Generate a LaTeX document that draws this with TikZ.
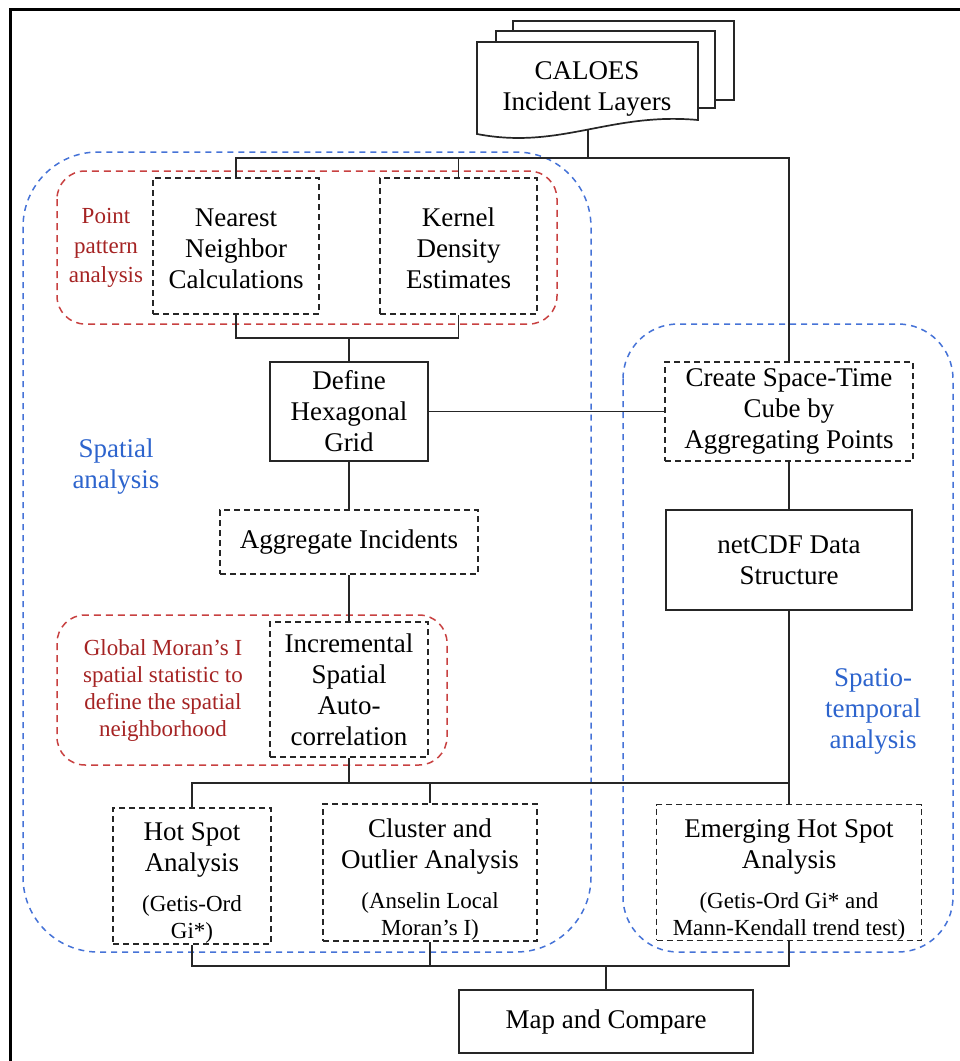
\documentclass[tikz,border=0pt]{standalone}
\usepackage{fontspec}
\setmainfont{Liberation Serif}
\newcommand\bigf{\fontsize{27}{31}\selectfont}
\newcommand\smallf{\fontsize{23}{27}\selectfont}
\newcommand\redf{\fontsize{23}{29.5}\selectfont}
\definecolor{regblue}{RGB}{70,115,215}
\definecolor{txtblue}{RGB}{45,100,205}
\definecolor{regred}{RGB}{200,65,65}
\definecolor{txtred}{RGB}{165,35,35}
\begin{document}
\begin{tikzpicture}[x=1pt,y=-1pt,
  box/.style={draw=black!85, line width=1.7pt, inner sep=0pt, align=flush center, font=\bigf},
  dbox/.style={box, line width=1.8pt, dash pattern=on 6pt off 4pt},
  conn/.style={draw=black!85, line width=1.7pt},
  docline/.style={draw=black!85, line width=1.7pt, fill=white},
  breg/.style={draw=regblue, line width=1.5pt, dash pattern=on 6pt off 5pt},
  rreg/.style={draw=regred, line width=1.5pt, dash pattern=on 7pt off 5pt, rounded corners=28pt},
  lab/.style={inner sep=0pt, align=center}]
\useasboundingbox (0,0) rectangle (960,1061);
% outer frame
\draw[line width=3pt] (10,1061) -- (10,9) -- (960,9);
% regions
\draw[breg, rounded corners=75pt] (23,152) rectangle (591,952);
\draw[breg, rounded corners=55pt] (623,324) rectangle (953,952);
\draw[rreg] (57,171) rectangle (557,324);
\draw[rreg] (57,615) rectangle (447,765);
% document stack
\draw[docline] (513,21) rectangle (734,100);
\draw[docline] (496,31) rectangle (715,108);
\draw[docline] (477,42) -- (698,42) -- (698,120) .. controls (610,112) and (560,150) .. (477,134) -- cycle;
\node[lab, font=\bigf] (doc) at (587,89) {CALOES\\Incident Layers};
% nodes
\node[dbox, minimum width=166pt, minimum height=136pt] (nn) at (236,246) {\rule{0pt}{24pt}Nearest\\Neighbor\\Calculations};
\node[dbox, minimum width=157pt, minimum height=136pt] (kd) at (458.5,246) {\rule{0pt}{24pt}Kernel\\Density\\Estimates};
\node[lab, font=\redf, text=txtred] (ppa) at (106,248) {Point\\pattern\\analysis};
\node[box, minimum width=158pt, minimum height=99pt] (def) at (349,411.5) {Define\\Hexagonal\\Grid};
\node[dbox, minimum width=248pt, minimum height=99pt] (cs) at (789,411.5) {Create Space-Time\\Cube by\\Aggregating Points};
\node[dbox, minimum width=258pt, minimum height=64pt] (agg) at (349,542) {Aggregate Incidents};
\node[box, minimum width=246pt, minimum height=100pt] (net) at (789,560) {netCDF Data\\Structure};
\node[dbox, minimum width=158pt, minimum height=135pt] (inc) at (349,689.5) {Incremental\\Spatial\\Auto-\\correlation};
\node[lab, font=\smallf, text=txtred] (gm) at (163,690) {Global Moran’s I\\spatial statistic to\\define the spatial\\neighborhood};
\node[lab, font=\bigf, text=txtblue] (sa) at (116,467) {Spatial\\analysis};
\node[lab, font=\bigf, text=txtblue] (sta) at (873,711) {Spatio-\\temporal\\analysis};
\node[dbox, minimum width=158pt, minimum height=136pt, text width=152pt] (hs) at (192,876)
  {\rule{0pt}{31pt}Hot Spot\\Analysis\par\vspace{13pt}{\smallf(Getis-Ord\\Gi*)\par}};
\node[dbox, minimum width=214pt, minimum height=137pt, text width=208pt] (cl) at (430,872.5)
  {\rule{0pt}{32pt}Cluster and\\Outlier Analysis\par\vspace{13pt}{\smallf(Anselin Local\\Moran’s I)\par}};
\node[dbox, minimum width=265pt, minimum height=135pt, text width=259pt] (emg) at (789,872.5)
  {\rule{0pt}{33pt}Emerging Hot Spot\\Analysis\par\vspace{13pt}{\smallf(Getis-Ord Gi* and\\Mann-Kendall trend test)\par}};
\node[box, minimum width=294pt, minimum height=63pt] (map) at (606,1021.5) {Map and Compare};
% connectors
\coordinate (docb) at (588,130);
\coordinate (j1) at (588,158);
\draw[conn] (docb) -- (j1);
\draw[conn] (nn.north) |- (cs.north |- j1) -- (cs.north);
\draw[conn] (kd.north) -- (kd.north |- j1);
\coordinate (j2) at (349,338);
\draw[conn] (nn.south) |- (kd.south |- j2) -- (kd.south);
\draw[conn] (j2) -- (def.north);
\draw[conn] (def.east) -- (cs.west);
\draw[conn] (def.south) -- (agg.north);
\draw[conn] (agg.south) -- (inc.north);
\draw[conn] (cs.south) -- (net.north);
\draw[conn] (net.south) -- (emg.north);
\coordinate (j3) at (349,783);
\draw[conn] (inc.south) -- (j3);
\draw[conn] (hs.north) |- (emg.north |- j3);
\draw[conn] (cl.north) -- (cl.north |- j3);
\coordinate (j4) at (606,966);
\draw[conn] (hs.south) |- (emg.south |- j4) -- (emg.south);
\draw[conn] (cl.south) -- (cl.south |- j4);
\draw[conn] (j4) -- (map.north);
\end{tikzpicture}
\end{document}
